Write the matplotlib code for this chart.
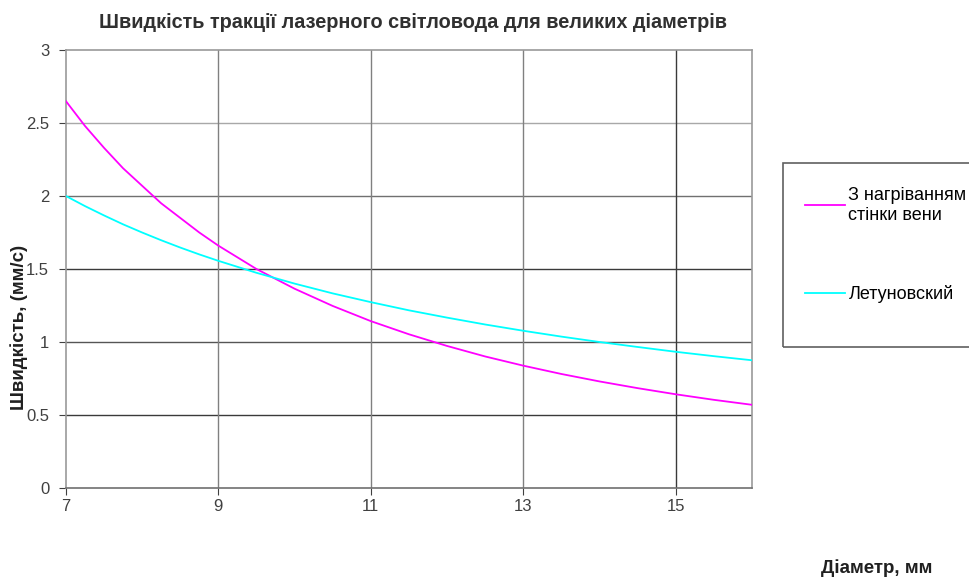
import matplotlib
matplotlib.use("Agg")
import matplotlib.pyplot as plt
from matplotlib.patches import Rectangle

plt.rcParams['font.family'] = ['Liberation Sans', 'DejaVu Sans']

# diameters, mm
diam = [7, 7.25, 7.5, 7.75, 8, 8.25, 8.5, 8.75, 9, 9.5, 10, 10.5, 11, 11.5, 12, 12.5,
        13, 13.5, 14, 14.5, 15, 15.5, 16]
# speed with vein wall heating, mm/s
v_heat = [2.65, 2.48, 2.33, 2.19, 2.07, 1.95, 1.85, 1.75, 1.66, 1.50, 1.365, 1.247,
          1.143, 1.053, 0.973, 0.901, 0.838, 0.781, 0.730, 0.684, 0.642, 0.604, 0.57]
# Letunovsky, mm/s
v_let = [2.0, 1.931, 1.867, 1.806, 1.75, 1.697, 1.647, 1.60, 1.556, 1.474, 1.40, 1.333,
         1.273, 1.217, 1.167, 1.12, 1.077, 1.037, 1.0, 0.966, 0.933, 0.903, 0.875]

xticks = [7, 9, 11, 13, 15]
yticks = [0, 0.5, 1, 1.5, 2, 2.5, 3]
ylabels = ['0', '0.5', '1', '1.5', '2', '2.5', '3']

fig = plt.figure(figsize=(9.69, 5.8), dpi=100)
ax = fig.add_axes([0.068, 0.1586, 0.708, 0.7552])

# grid lines (uneven darkness like the original)
hcol = {0.5: '#3a3a3a', 1: '#555555', 1.5: '#3a3a3a', 2: '#707070', 2.5: '#a8a8a8'}
for yv, c in hcol.items():
    ax.axhline(yv, color=c, lw=1, zorder=1)
vcol = {9: '#808080', 11: '#808080', 13: '#808080', 15: '#3a3a3a'}
for xv, c in vcol.items():
    ax.axvline(xv, color=c, lw=1, zorder=1)

ax.plot(diam, v_heat, color='#ff00ff', lw=1.3, label='З нагріванням\nстінки вени', zorder=3)
ax.plot(diam, v_let, color='#00ffff', lw=1.3, label='Летуновский', zorder=3)

ax.set_xlim(7, 16)
ax.set_ylim(0, 3)
ax.set_xticks(xticks)
ax.set_xticklabels([str(t) for t in xticks])
ax.set_yticks(yticks)
ax.set_yticklabels(ylabels)
ax.tick_params(axis='both', labelsize=12, colors='#404040', length=5, width=0.8, labelcolor='#404040')
ax.tick_params(axis='y', pad=7)
ax.tick_params(axis='x', pad=3)
for s in ax.spines.values():
    s.set_color('#9a9a9a')
    s.set_linewidth(1.2)
ax.spines['bottom'].set_color('#707070')

fig.text(0.426, 0.962, 'Швидкість тракції лазерного світловода для великих діаметрів',
         ha='center', va='center', fontsize=14.3, fontweight='bold', color='#303030')
fig.text(0.02, 0.436, 'Швидкість, (мм/с)', rotation=90, ha='center', va='center',
         fontsize=13.5, fontweight='bold', color='#202020')
fig.text(0.905, 0.021, 'Діаметр, мм', ha='center', va='center',
         fontsize=13.5, fontweight='bold', color='#202020')

# legend frame, cut by the right edge like the original
fig.patches.append(Rectangle((783 / 969, 1 - 347 / 580), 0.25, 184 / 580,
                             transform=fig.transFigure, fill=False,
                             edgecolor='#606060', lw=1.2))
leg = fig.legend(loc='upper left', bbox_to_anchor=(805 / 969, 1 - 187 / 580), frameon=False,
                 fontsize=13, handlelength=2.2, handletextpad=0.2, labelspacing=3.4,
                 borderpad=0, borderaxespad=0)

fig.savefig('out.png', dpi=100)
